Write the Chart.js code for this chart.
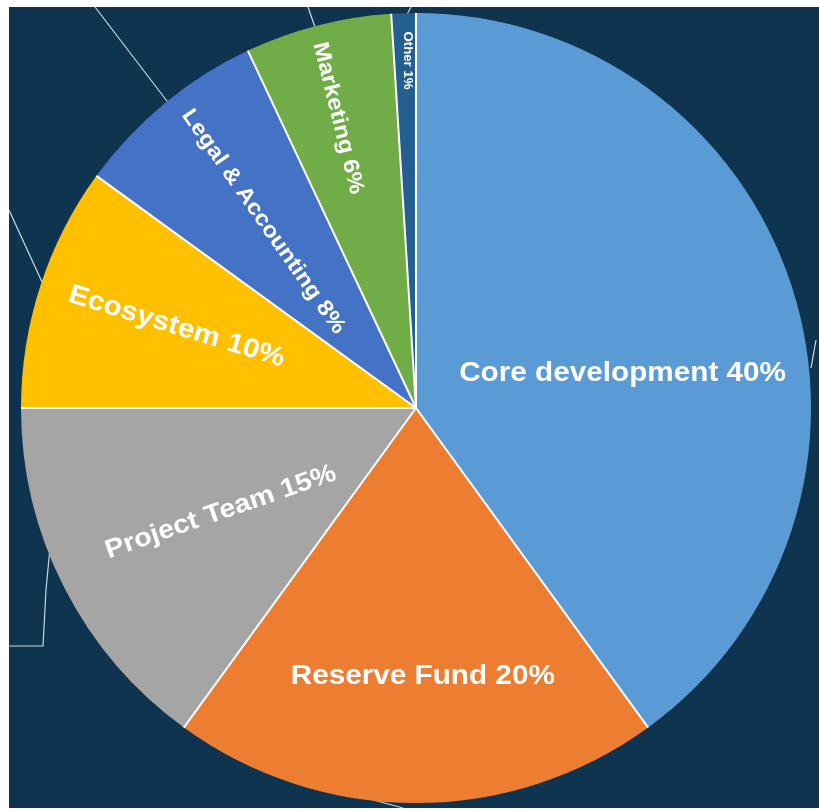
<!DOCTYPE html>
<html>
<head>
<meta charset="utf-8">
<script src="https://cdn.jsdelivr.net/npm/chart.js@4"></script>
<style>
    html, body { margin: 0; padding: 0; background: #ffffff; }
    #wrap { position: absolute; left: 0; top: 0; width: 819px; height: 810px; }
</style>
</head>
<body>
<div id="wrap"><canvas id="pie"></canvas></div>
<script>
const categories = ['Core development', 'Reserve Fund', 'Project Team', 'Ecosystem', 'Legal & Accounting', 'Marketing', 'Other'];
const shares = [40, 20, 15, 10, 8, 6, 1];
const colors = ['#5b9bd5', '#ed7d31', '#a5a5a5', '#ffc000', '#4472c4', '#70ad47', '#255e91'];

// label placement: radius fraction, angle fraction inside slice, rotation (deg), font size
const labelStyle = [
    { r: .53, f: .56, rot: 0, size: 27 },
    { r: .68, f: .48, rot: 0, size: 27 },
    { r: .56, f: .48, rot: -19, size: 26 },
    { r: .64, f: .52, rot: 17, size: 27 },
    { r: .61, f: .51, rot: 55, size: 22 },
    { r: .76, f: .47, rot: 76, size: 22 },
    { r: .88, f: .6, rot: 90, size: 12 },
];

// stray connector strokes on the backdrop
const strokes = [
    [[95, 7], [170, 105]],
    [[308, 7], [316, 30]],
    [[411, 7], [405, 18]],
    [[9, 210], [42, 282]],
    [[50, 548], [46, 590], [43, 646], [9, 646]],
    [[355, 795], [403, 808]],
    [[816, 340], [811, 368]],
];

const backdrop = {
    id: 'backdrop',
    beforeDraw(chart) {
        const ctx = chart.ctx;
        ctx.save();
        ctx.fillStyle = '#0e3450';
        ctx.fillRect(9, 7, 810, 801);
        ctx.strokeStyle = 'rgba(235,245,250,.85)';
        ctx.lineWidth = 1.2;
        strokes.forEach((pts) => {
            ctx.beginPath();
            pts.forEach(([x, y], i) => i ? ctx.lineTo(x, y) : ctx.moveTo(x, y));
            ctx.stroke();
        });
        ctx.restore();
    },
};

// white separators between slices only, no outer rim
const separators = {
    id: 'separators',
    afterDatasetsDraw(chart) {
        const ctx = chart.ctx;
        ctx.save();
        ctx.strokeStyle = '#ffffff';
        ctx.lineWidth = 2;
        chart.getDatasetMeta(0).data.forEach((arc) => {
            ctx.beginPath();
            ctx.moveTo(arc.x, arc.y);
            ctx.lineTo(arc.x + Math.cos(arc.startAngle) * arc.outerRadius, arc.y + Math.sin(arc.startAngle) * arc.outerRadius);
            ctx.stroke();
        });
        ctx.restore();
    },
};

const sliceLabels = {
    id: 'sliceLabels',
    afterDatasetsDraw(chart) {
        const ctx = chart.ctx;
        chart.getDatasetMeta(0).data.forEach((arc, i) => {
            const s = labelStyle[i];
            const a = arc.startAngle + (arc.endAngle - arc.startAngle) * s.f;
            const r = arc.outerRadius * s.r;
            ctx.save();
            ctx.translate(arc.x + Math.cos(a) * r, arc.y + Math.sin(a) * r);
            ctx.rotate(s.rot * Math.PI / 180);
            ctx.scale(1.1, 1);
            ctx.font = `bold ${s.size}px "Liberation Sans", Arial, sans-serif`;
            ctx.fillStyle = '#ffffff';
            ctx.textAlign = 'center';
            ctx.textBaseline = 'middle';
            ctx.fillText(`${categories[i]} ${shares[i]}%`, 0, 0);
            ctx.restore();
        });
    },
};

new Chart(document.getElementById('pie'), {
    type: 'pie',
    data: { labels: categories, datasets: [{ data: shares, backgroundColor: colors, borderWidth: 0 }] },
    options: {
        responsive: true, maintainAspectRatio: false, animation: false,
        layout: { padding: { left: 21, right: 8, top: 13, bottom: 7 } },
        plugins: { legend: { display: false }, tooltip: { enabled: false } },
    },
    plugins: [backdrop, separators, sliceLabels],
});
</script>
</body>
</html>
